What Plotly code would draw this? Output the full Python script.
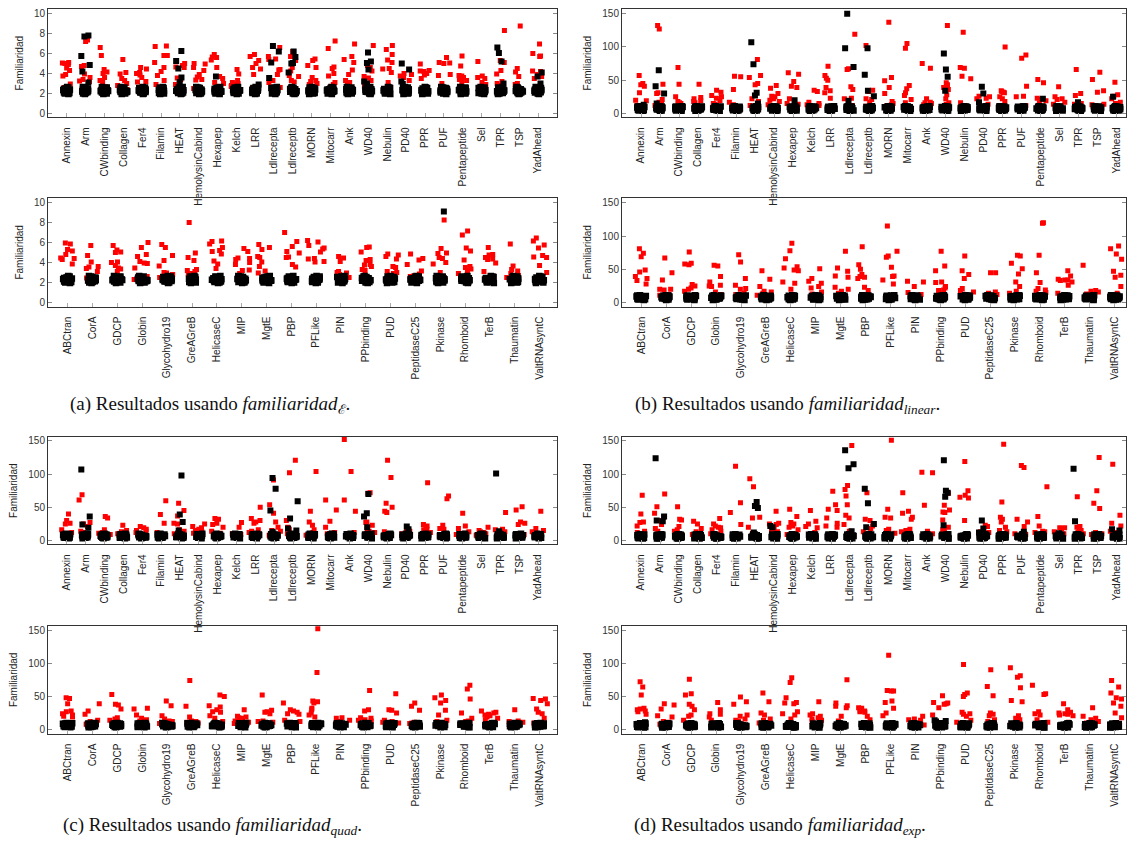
import plotly.graph_objects as go

# Category names (families) for the upper and lower strip of every sub-figure
CATS_TOP = ["Annexin", "Arm", "CWbinding", "Collagen", "Fer4", "Filamin", "HEAT",
            "HemolysinCabind", "Hexapep", "Kelch", "LRR", "Ldlrecepta", "Ldlreceptb",
            "MORN", "Mitocarr", "Ank", "WD40", "Nebulin", "PD40", "PPR", "PUF",
            "Pentapeptide", "Sel", "TPR", "TSP", "YadAhead"]
CATS_BOTTOM = ["ABCtran", "CorA", "GDCP", "Globin", "Glycohydro19", "GreAGreB",
               "HelicaseC", "MIP", "MgtE", "PBP", "PFLike", "PIN", "PPbinding", "PUD",
               "PeptidaseC25", "Pkinase", "Rhomboid", "TerB", "Thaumatin", "ValtRNAsyntC"]

# Dense block of black points present in every family (one list per measure)
BAND_EPS = [1.95, 2.0, 2.05, 2.1, 2.12, 2.15, 2.18, 2.2, 2.22, 2.25, 2.28, 2.3, 2.32,
            2.35, 2.38, 2.4, 2.42, 2.45, 2.5, 2.55, 2.6, 2.65]
BAND_LINEAR = [4.0, 4.5, 5.0, 5.5, 6.0, 6.3, 6.6, 7.0, 7.3, 7.6, 8.0, 8.3, 8.6, 9.0,
               9.4, 9.8, 10.2, 10.6, 11.0]
BAND_QUAD = [3.5, 4.0, 4.5, 5.0, 5.4, 5.8, 6.2, 6.5, 6.8, 7.1, 7.5, 7.9, 8.3, 8.7,
             9.1, 9.5, 10.0]
BAND_EXP = [3.0, 3.5, 4.0, 4.4, 4.8, 5.2, 5.5, 5.8, 6.1, 6.4, 6.8, 7.2, 7.6, 8.0,
            8.5, 9.0, 9.5]

# ---------------- familiaridad_E ----------------
RED_EPS_TOP = [
    [5.1, 5.05, 5.0, 4.9, 4.55, 4.3, 3.9, 3.75, 2.95, 2.6, 2.3],
    [7.35, 7.2, 4.8, 4.7, 3.95, 3.6, 3.4, 3.25, 3.2, 2.6],
    [6.6, 5.8, 4.4, 4.15, 4.0, 3.6, 3.3, 3.2, 2.7],
    [5.4, 4.1, 3.95, 3.5, 3.3, 3.0, 2.8, 2.4],
    [4.6, 4.45, 4.1, 4.0, 3.85, 3.6, 3.2, 3.15, 2.4],
    [6.75, 6.7, 5.8, 5.8, 5.1, 4.6, 4.2, 3.8, 3.3, 2.9],
    [5.0, 4.8, 4.65, 4.6, 3.55, 3.4, 3.3, 2.9],
    [5.0, 4.95, 4.6, 4.3, 3.9, 3.65, 3.4, 3.35, 2.5],
    [5.9, 5.65, 5.6, 5.35, 4.6, 3.7, 3.5, 3.1, 3.0],
    [4.4, 3.95, 3.3, 3.1, 3.0, 2.95, 2.8, 2.7],
    [5.9, 5.7, 5.3, 5.0, 4.6, 4.45, 3.9, 2.6],
    [6.6, 5.7, 5.45, 5.4, 4.4, 4.35, 3.9, 3.3, 3.1, 2.6],
    [6.2, 5.7, 5.3, 4.6, 4.25, 3.8, 3.7, 3.3, 3.15],
    [5.45, 5.3, 4.8, 4.6, 3.6, 3.3, 3.2, 3.0, 2.9],
    [7.25, 6.5, 4.65, 4.5, 4.0, 3.75, 3.1, 2.9, 2.7],
    [6.95, 5.7, 5.4, 5.1, 4.35, 3.9, 3.3, 3.1, 2.9],
    [6.8, 5.1, 4.8, 4.6, 4.25, 3.7, 3.55, 3.3, 2.7],
    [6.8, 6.4, 5.9, 5.35, 5.1, 4.5, 4.45, 4.1, 3.1],
    [4.0, 3.9, 3.75, 3.6, 3.3, 2.7, 2.6],
    [4.95, 4.3, 4.25, 4.2, 4.0, 3.85, 3.5, 2.5],
    [5.6, 5.1, 5.05, 5.0, 3.9, 3.8, 3.0, 2.7, 2.5],
    [5.75, 4.75, 3.8, 3.75, 3.6, 3.5, 3.4, 3.3, 3.1],
    [5.2, 3.75, 3.6, 3.5, 3.1, 2.9, 2.7],
    [8.3, 5.3, 5.1, 4.3, 3.95, 3.2, 3.0, 2.8],
    [8.75, 4.5, 4.15, 3.7, 3.0, 2.9, 2.4],
    [6.95, 6.0, 5.75, 5.7, 4.25, 4.2, 3.9, 3.7, 3.5],
]
BLACK_EPS_TOP = [
    [], [7.8, 7.7, 5.75, 4.85, 4.2, 3.1], [], [], [], [], [6.25, 5.25, 4.5, 3.6, 3.15],
    [], [3.7], [], [2.9], [6.75, 6.2, 5.1, 3.55], [6.2, 5.65, 5.05, 5.0, 4.1], [], [],
    [], [6.1, 5.2, 5.05, 4.4, 3.2, 3.0], [], [5.0, 4.4, 3.2, 2.95], [], [], [], [],
    [6.6, 6.05, 5.2, 3.0], [], [4.1, 3.7, 3.0],
]
RED_EPS_BOTTOM = [
    [5.95, 5.85, 5.3, 5.15, 4.8, 4.45, 4.4, 4.3, 3.85],
    [5.7, 4.7, 4.05, 3.6, 3.55, 3.4, 3.1, 2.6, 2.5, 2.45],
    [5.7, 5.25, 5.05, 5.0, 4.05, 4.0, 3.7, 3.45, 3.35, 3.1],
    [6.0, 5.5, 4.8, 4.6, 4.1, 3.95, 3.9, 3.45, 2.6, 2.3],
    [5.8, 5.5, 4.7, 4.2, 3.65, 3.0, 2.95, 2.8, 2.5],
    [8.0, 4.95, 4.5, 4.2, 3.3, 3.2, 3.1, 2.9, 2.85, 2.4],
    [6.15, 6.1, 5.85, 5.5, 5.2, 5.1, 4.85, 4.15, 3.85, 3.4],
    [5.4, 5.1, 4.45, 4.4, 4.3, 4.0, 3.8, 3.25, 3.2, 2.9],
    [5.8, 5.5, 5.3, 4.6, 4.5, 4.05, 3.6, 3.15, 2.95, 2.4],
    [7.0, 6.1, 5.6, 5.1, 4.95, 4.55, 4.5, 3.8, 3.55, 2.7],
    [6.2, 6.05, 5.7, 5.45, 5.35, 5.05, 4.4, 4.35, 4.1, 4.05],
    [4.6, 4.45, 4.1, 3.1, 3.0, 2.95, 2.8, 2.6, 2.5],
    [5.55, 5.5, 5.05, 4.3, 4.2, 3.8, 3.75, 3.6, 3.3, 3.2],
    [4.85, 4.75, 4.6, 4.35, 3.6, 3.5, 3.1, 3.0, 2.9, 2.3],
    [4.85, 4.4, 4.25, 3.8, 3.15, 2.85, 2.7, 2.6, 2.3],
    [8.25, 5.4, 4.95, 4.9, 4.5, 4.4, 4.0, 3.85, 3.0, 2.6],
    [7.15, 6.75, 5.45, 5.15, 4.25, 3.6, 3.5, 3.35, 3.2, 2.9],
    [5.5, 4.8, 4.75, 4.5, 4.35, 4.3, 3.95, 3.1, 2.3],
    [5.85, 3.65, 3.3, 3.15, 2.9, 2.7, 2.5],
    [6.45, 6.15, 5.75, 5.45, 4.7, 4.55, 4.5, 3.7, 3.0],
]
BLACK_EPS_BOTTOM = [[], [], [], [], [], [], [], [], [], [], [], [], [], [], [], [9.1],
                    [], [], [], []]

# ---------------- familiaridad_linear ----------------
RED_LINEAR_TOP = [
    [57, 45, 43, 41, 31, 20, 19, 12, 8],
    [132, 127, 44, 31, 30, 21, 17, 16, 12],
    [69, 44, 25, 18, 16, 15, 12, 10],
    [44, 24, 22, 19, 18, 16, 12, 10],
    [35, 32, 27, 25, 23, 19, 15, 14],
    [56, 55, 36, 17, 13],
    [81, 57, 54, 45, 43, 22, 18, 12],
    [42, 38, 30, 26, 25, 22, 20, 18, 13],
    [61, 59, 48, 41, 39, 22, 15, 14],
    [35, 33, 17, 15, 13, 12],
    [71, 57, 53, 50, 39, 34, 31, 23],
    [119, 67, 66, 40, 36, 23, 22, 12],
    [102, 35, 33, 22, 21, 17, 11],
    [137, 54, 49, 39, 30, 18, 15, 13, 12],
    [105, 98, 42, 37, 31, 27, 21, 16],
    [75, 68, 22, 17, 16, 15, 13],
    [132, 46, 43, 39, 36, 28, 22, 16, 14],
    [122, 69, 68, 56, 52, 16],
    [26, 25, 23, 22, 14, 12],
    [100, 34, 33, 32, 31, 25, 22, 18],
    [88, 83, 41, 26, 25, 12, 10],
    [51, 46, 23, 21, 19, 16],
    [40, 25, 22, 21, 17, 14],
    [66, 30, 27, 15, 14, 12, 11],
    [62, 51, 34, 32, 14, 13, 12],
    [47, 28, 26, 22, 17, 15],
]
BLACK_LINEAR_TOP = [
    [13], [65, 41, 30, 15], [], [], [], [], [107, 74, 31, 27, 15], [], [20], [], [],
    [150, 98, 70, 19], [98, 58, 34, 26], [], [], [], [90, 66, 55, 34], [], [40, 30, 17],
    [], [], [22], [], [17], [], [25],
]
RED_LINEAR_BOTTOM = [
    [81, 74, 69, 49, 46, 39, 36, 33, 28],
    [67, 45, 34, 20, 20, 19, 12, 11],
    [76, 59, 58, 57, 27, 25, 22, 20, 17],
    [56, 55, 39, 31, 26, 25, 24, 16, 12],
    [72, 61, 36, 26, 21, 20, 14, 12],
    [48, 35, 24, 17, 16, 14, 11],
    [89, 78, 66, 54, 52, 49, 48, 31, 29, 20],
    [51, 36, 32, 29, 24, 22, 16, 13],
    [77, 52, 47, 40, 38, 23, 20, 17, 14],
    [84, 57, 50, 42, 39, 38, 36, 23, 18],
    [115, 77, 70, 68, 53, 40, 39, 34, 28],
    [32, 31, 24, 15, 12, 10],
    [77, 55, 48, 31, 30, 24, 22, 19, 18],
    [70, 48, 42, 36, 21, 18, 16, 13],
    [45, 45, 16, 14, 12, 10],
    [71, 70, 59, 51, 43, 31, 24, 17, 14],
    [120, 119, 71, 45, 30, 21, 19, 17, 15],
    [48, 40, 35, 34, 34, 33, 31, 26, 14],
    [56, 18, 17, 16, 13, 10],
    [85, 81, 73, 65, 47, 41, 38, 24, 14],
]
BLACK_LINEAR_BOTTOM = [[] for _ in CATS_BOTTOM]

# ---------------- familiaridad_quad ----------------
RED_QUAD_TOP = [
    [40, 30, 26, 25, 16, 12, 11, 7],
    [69, 61, 27, 25, 21, 14, 12],
    [36, 34, 16, 12, 11, 10, 9],
    [23, 15, 13, 12, 10, 8],
    [21, 19, 17, 15, 14, 12, 10],
    [60, 39, 26, 12],
    [56, 45, 37, 26, 25, 16, 14, 10],
    [25, 21, 19, 17, 15, 13, 11],
    [33, 32, 26, 24, 20, 14, 11],
    [27, 20, 10, 9],
    [50, 33, 30, 28, 26, 16, 14, 12],
    [91, 54, 41, 28, 20, 15, 14, 8],
    [121, 102, 30, 20, 17, 10],
    [104, 44, 28, 23, 16, 12, 8],
    [61, 46, 29, 20, 12, 11, 10],
    [152, 104, 61, 44, 12, 10, 9],
    [72, 71, 28, 27, 23, 16, 14, 12],
    [121, 95, 56, 50, 44, 42, 13],
    [16, 14, 12, 10, 8],
    [87, 24, 22, 18, 17, 16, 12, 10],
    [67, 63, 23, 18, 17, 8],
    [41, 22, 18, 13, 11, 9],
    [20, 15, 13, 12, 10, 8],
    [42, 17, 16, 13, 10],
    [51, 46, 28, 26, 24, 9, 8],
    [44, 18, 15, 13, 11],
]
BLACK_QUAD_TOP = [
    [], [107, 36, 24, 19], [], [], [], [], [98, 39, 28, 15], [], [], [], [],
    [94, 78, 45, 13], [59, 33, 18, 15], [], [], [], [70, 41, 36, 20], [], [21, 17],
    [], [], [], [], [101, 14], [], [],
]
RED_QUAD_BOTTOM = [
    [48, 47, 39, 28, 27, 24, 22, 20, 19],
    [39, 28, 23, 14, 12, 10, 8],
    [53, 38, 37, 31, 18, 16, 14, 12],
    [32, 31, 22, 17, 15, 13, 9],
    [43, 36, 21, 16, 13, 12, 9],
    [74, 35, 19, 13, 12, 11, 10],
    [52, 50, 36, 34, 30, 27, 26, 21, 17, 12],
    [30, 20, 19, 18, 17, 16, 13, 11, 9],
    [52, 29, 27, 26, 24, 13, 12, 11],
    [40, 30, 28, 26, 24, 23, 14, 12],
    [152, 86, 43, 42, 40, 32, 30, 25, 22, 19],
    [18, 17, 14, 12, 9, 8],
    [59, 30, 28, 18, 17, 15, 14, 13],
    [54, 30, 29, 25, 14, 12, 11, 10],
    [40, 35, 29, 11, 10, 9],
    [52, 48, 44, 40, 29, 22, 14, 12],
    [67, 61, 46, 25, 17, 13, 12, 10],
    [28, 26, 25, 23, 22, 21, 19, 17, 15],
    [30, 13, 12, 11, 9],
    [47, 46, 44, 39, 31, 26, 24, 17, 10],
]
BLACK_QUAD_BOTTOM = [[] for _ in CATS_BOTTOM]

# ---------------- familiaridad_exp ----------------
RED_EXP_TOP = [
    [68, 40, 28, 27, 22, 14, 12, 9],
    [70, 51, 41, 35, 30, 24, 18, 14],
    [51, 32, 31, 21, 16, 14, 11],
    [29, 25, 18, 13, 11, 9],
    [33, 25, 22, 20, 19, 16, 14, 10],
    [112, 57, 42, 24, 10],
    [93, 81, 35, 34, 20, 11],
    [44, 26, 25, 24, 18, 16, 13],
    [47, 36, 27, 25, 22, 20, 16, 9],
    [45, 29, 25, 21, 19, 12],
    [74, 54, 47, 45, 34, 26, 22, 20, 10],
    [143, 83, 77, 67, 54, 38, 34, 24, 14],
    [72, 32, 30, 22, 18, 13],
    [151, 47, 35, 34, 17, 15, 11],
    [72, 44, 41, 35, 32, 17, 15, 13],
    [103, 102, 53, 14, 10],
    [71, 53, 46, 43, 42, 31, 20, 17, 16],
    [119, 75, 68, 65, 64, 30],
    [23, 21, 13, 12, 9],
    [145, 58, 35, 32, 28, 20, 15, 13],
    [113, 110, 32, 28, 21, 10, 9],
    [81, 36, 22, 14, 13, 12],
    [19, 19, 18, 13, 10, 8],
    [66, 21, 20, 19, 15, 12, 10],
    [125, 75, 56, 48, 12, 10, 9],
    [115, 38, 26, 22, 14, 12],
]
BLACK_EXP_TOP = [
    [], [124, 36, 30, 29], [], [], [], [], [58, 52, 49, 12], [22, 20], [], [], [],
    [136, 115, 109, 14], [78, 56, 25, 20], [], [], [], [121, 75, 72, 66, 23], [],
    [30, 18, 12], [], [13], [], [11], [108, 29], [], [17, 15],
]
RED_EXP_BOTTOM = [
    [72, 64, 52, 32, 31, 30, 28, 27, 23],
    [39, 37, 31, 21, 19, 12, 11, 8],
    [76, 54, 52, 38, 35, 30, 22, 20, 14],
    [41, 30, 24, 23, 19, 14, 10, 8],
    [49, 42, 38, 22, 20, 16, 14, 12],
    [55, 42, 25, 22, 16, 14, 10, 8],
    [78, 71, 48, 41, 40, 39, 27, 24, 22, 16],
    [42, 24, 22, 20, 18, 16, 14, 12],
    [75, 40, 36, 35, 33, 20, 13],
    [33, 32, 29, 28, 27, 26, 20, 15, 9],
    [112, 59, 58, 58, 43, 41, 32, 25, 21],
    [20, 16, 15, 14, 10, 9, 7],
    [51, 41, 40, 39, 38, 33, 22],
    [98, 55, 53, 50, 26, 24, 23, 20, 14, 11],
    [90, 65, 51, 25, 23, 21, 15, 12, 9],
    [93, 81, 79, 63, 44, 42, 21, 17, 15],
    [67, 54, 53, 27, 24, 22, 15, 11],
    [39, 30, 26, 25, 24, 23, 22, 21, 11],
    [33, 20, 17, 15, 12, 10],
    [74, 64, 55, 48, 46, 40, 35, 25, 18],
]
BLACK_EXP_BOTTOM = [[11], [], [], [], [], [], [], [], [], [], [], [], [14, 13, 12],
                    [], [], [], [], [], [], []]

CAPTIONS = [
    "(a) Resultados usando <i>familiaridad</i><sub>ℰ</sub>.",
    "(b) Resultados usando <i>familiaridad</i><sub><i>linear</i></sub>.",
    "(c) Resultados usando <i>familiaridad</i><sub><i>quad</i></sub>.",
    "(d) Resultados usando <i>familiaridad</i><sub><i>exp</i></sub>.",
]

# ---------------- layout helpers ----------------
W, H = 1128, 857
SANS = "Liberation Sans, Arial, sans-serif"
SERIF = "Liberation Serif, Times New Roman, serif"


def px_x(a, b):
    return [a / W, b / W]


def px_y(top, bottom):
    return [1 - bottom / H, 1 - top / H]


LEFT_X = px_x(48, 557)
RIGHT_X = px_x(622, 1126)
ROW_Y = [px_y(7, 116), px_y(197, 306), px_y(437, 545), px_y(627, 735)]

EPS_TICKS = [0, 2, 4, 6, 8, 10]
BIG_TICKS = [0, 50, 100, 150]

panels = [
    # (cats, red, black extras, band, x domain, y domain, y range, y ticks, x range)
    (CATS_TOP, RED_EPS_TOP, BLACK_EPS_TOP, BAND_EPS, LEFT_X, ROW_Y[0], [-0.4, 10.45], EPS_TICKS, [-1, 26]),
    (CATS_BOTTOM, RED_EPS_BOTTOM, BLACK_EPS_BOTTOM, BAND_EPS, LEFT_X, ROW_Y[1], [-0.4, 10.45], EPS_TICKS, [-0.8, 19.7]),
    (CATS_TOP, RED_LINEAR_TOP, BLACK_LINEAR_TOP, BAND_LINEAR, RIGHT_X, ROW_Y[0], [-6, 157], BIG_TICKS, [-1, 25.5]),
    (CATS_BOTTOM, RED_LINEAR_BOTTOM, BLACK_LINEAR_BOTTOM, BAND_LINEAR, RIGHT_X, ROW_Y[1], [-6, 157], BIG_TICKS, [-0.78, 19.45]),
    (CATS_TOP, RED_QUAD_TOP, BLACK_QUAD_TOP, BAND_QUAD, LEFT_X, ROW_Y[2], [-6, 156], BIG_TICKS, [-1, 26]),
    (CATS_BOTTOM, RED_QUAD_BOTTOM, BLACK_QUAD_BOTTOM, BAND_QUAD, LEFT_X, ROW_Y[3], [-6, 156], BIG_TICKS, [-0.8, 19.7]),
    (CATS_TOP, RED_EXP_TOP, BLACK_EXP_TOP, BAND_EXP, RIGHT_X, ROW_Y[2], [-6, 156], BIG_TICKS, [-1, 25.5]),
    (CATS_BOTTOM, RED_EXP_BOTTOM, BLACK_EXP_BOTTOM, BAND_EXP, RIGHT_X, ROW_Y[3], [-6, 156], BIG_TICKS, [-0.78, 19.45]),
]

fig = go.Figure()
layout = dict(
    width=W, height=H, margin=dict(l=0, r=0, t=0, b=0),
    paper_bgcolor="white", plot_bgcolor="white",
    showlegend=False, boxmode="overlay",
    font=dict(family=SANS, color="#222"),
)


def strip(cats, groups):
    xs, ys = [], []
    for c, vals in zip(cats, groups):
        xs += [c] * len(vals)
        ys += list(vals)
    return xs, ys


def jitter_strip(xs, ys, xa, ya, color, size, width):
    # invisible box whose sample points are spread sideways by plotly's jitter
    return go.Box(x=xs, y=ys, xaxis=xa, yaxis=ya, boxpoints="all", jitter=1,
                  pointpos=0, width=width, fillcolor="rgba(0,0,0,0)",
                  line=dict(width=0, color="rgba(0,0,0,0)"),
                  marker=dict(symbol="square", size=size, color=color,
                              line=dict(width=0)),
                  hoverinfo="skip", showlegend=False)


for i, (cats, red, blk, band, xd, yd, yr, yt, xr) in enumerate(panels, start=1):
    xa = "x" if i == 1 else f"x{i}"
    ya = "y" if i == 1 else f"y{i}"
    rx, ry = strip(cats, red)
    bx, by = strip(cats, [band] * len(cats))
    ex, ey = strip(cats, blk)
    fig.add_trace(jitter_strip(rx, ry, xa, ya, "#ff0000", 5, 0.72))
    fig.add_trace(jitter_strip(bx, by, xa, ya, "#000000", 6.5, 0.42))
    if ex:
        fig.add_trace(jitter_strip(ex, ey, xa, ya, "#000000", 6, 0.55))

    layout["xaxis" if i == 1 else f"xaxis{i}"] = dict(
        domain=xd, anchor=ya, type="category", categoryorder="array",
        categoryarray=cats, range=xr, tickangle=-90,
        showline=True, linecolor="#333", linewidth=1, mirror=True,
        ticks="inside", ticklen=4, tickcolor="#aaa", ticklabelstandoff=5,
        tickfont=dict(size=10, family=SANS, color="#222"),
        showgrid=False, zeroline=False,
    )
    layout["yaxis" if i == 1 else f"yaxis{i}"] = dict(
        domain=yd, anchor=xa, range=yr, tickvals=yt,
        showline=True, linecolor="#333", linewidth=1, mirror="ticks",
        ticks="inside", ticklen=4, tickcolor="#888",
        tickfont=dict(size=10, family=SANS, color="#333"),
        title=dict(text="Familiaridad", font=dict(size=10, family=SANS, color="#222"), standoff=8),
        showgrid=False, zeroline=False,
    )

cap_pos = [(210, 405), (787, 405), (212, 828), (780, 828)]
layout["annotations"] = [
    dict(text=t, x=cx / W, y=1 - cy / H, xref="paper", yref="paper",
         xanchor="center", yanchor="middle", showarrow=False,
         font=dict(family=SERIF, size=19, color="#111"))
    for t, (cx, cy) in zip(CAPTIONS, cap_pos)
]

fig.update_layout(**layout)
fig.write_html("out.html")
